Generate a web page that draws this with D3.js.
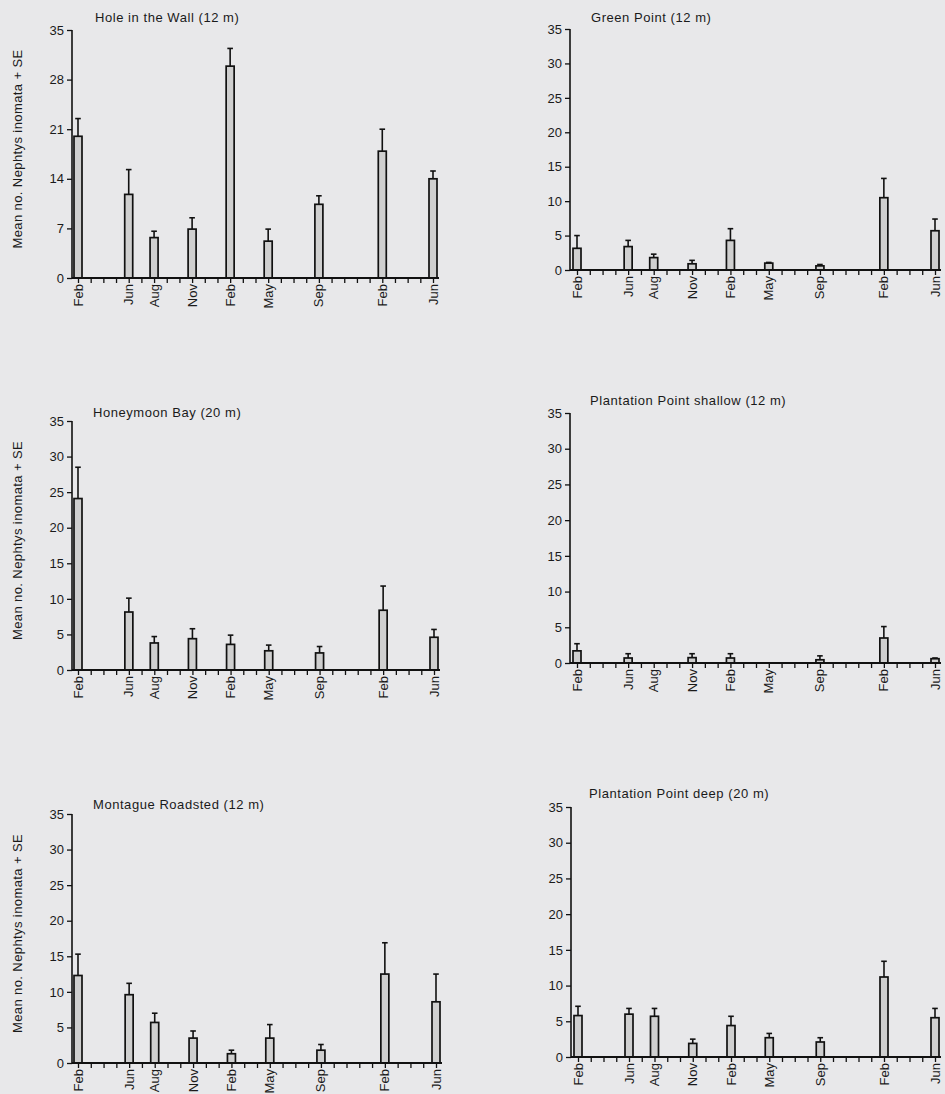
<!DOCTYPE html>
<html>
<head>
<meta charset="utf-8">
<script src="https://cdn.jsdelivr.net/npm/d3@7"></script>
<style>
  html, body { margin: 0; padding: 0; background: #e8e8ea; }
  svg { display: block; }
  text { font-family: "Liberation Sans", Arial, Helvetica, sans-serif; fill: #1a1a1a; }
</style>
</head>
<body>
<svg id="chart" width="945" height="1094"></svg>
<script>
// ---- data ----
const monthIndex = [0, 4, 6, 9, 12, 15, 19, 24, 28];   // months since first Feb
const monthLabels = ["Feb", "Jun", "Aug", "Nov", "Feb", "May", "Sep", "Feb", "Jun"];
const ticksHole = [0, 7, 14, 21, 28, 35];
const ticksFive = [0, 5, 10, 15, 20, 25, 30, 35];
const yLabel = "Mean no. Nephtys inomata + SE";

const holeMean = [20.0, 11.8, 5.7, 6.9, 29.9, 5.2, 10.4, 17.9, 14.0];
const holeSE   = [2.5, 3.5, 0.9, 1.6, 2.5, 1.7, 1.2, 3.1, 1.1];

const greenMean = [3.15, 3.4, 1.8, 0.9, 4.3, 1.0, 0.6, 10.5, 5.7];
const greenSE   = [1.85, 0.9, 0.5, 0.5, 1.7, 0.1, 0.2, 2.8, 1.7];

const honeyMean = [24.1, 8.15, 3.8, 4.4, 3.6, 2.7, 2.4, 8.4, 4.6];
const honeySE   = [4.4, 1.95, 0.9, 1.4, 1.3, 0.8, 0.9, 3.4, 1.1];

const ppShallowMean = [1.7, 0.7, null, 0.75, 0.7, null, 0.45, 3.5, 0.6];
const ppShallowSE   = [1.0, 0.6, null, 0.55, 0.6, null, 0.55, 1.6, 0.1];

const montagueMean = [12.3, 9.6, 5.7, 3.5, 1.3, 3.5, 1.8, 12.5, 8.6];
const montagueSE   = [3.0, 1.6, 1.3, 1.0, 0.5, 1.9, 0.8, 4.4, 3.9];

const ppDeepMean = [5.8, 6.0, 5.7, 1.9, 4.4, 2.7, 2.1, 11.2, 5.5];
const ppDeepSE   = [1.3, 0.8, 1.1, 0.6, 1.3, 0.6, 0.6, 2.2, 1.3];

// ---- layout ----
const panels = [
  { title: "Hole in the Wall (12 m)", mean: holeMean, se: holeSE, ticks: ticksHole,
    x0: 72, xa: 78, xb: 433, yTop: 30, yBot: 278, tx: 95, ty: 22, ylab: true },
  { title: "Green Point (12 m)", mean: greenMean, se: greenSE, ticks: ticksFive,
    x0: 570, xa: 577, xb: 935, yTop: 29, yBot: 270, tx: 591, ty: 22, ylab: false },
  { title: "Honeymoon Bay (20 m)", mean: honeyMean, se: honeySE, ticks: ticksFive,
    x0: 72, xa: 78, xb: 434, yTop: 421, yBot: 670, tx: 93, ty: 417, ylab: true },
  { title: "Plantation Point shallow (12 m)", mean: ppShallowMean, se: ppShallowSE, ticks: ticksFive,
    x0: 570, xa: 577, xb: 935, yTop: 413, yBot: 663, tx: 590, ty: 405, ylab: false },
  { title: "Montague Roadsted (12 m)", mean: montagueMean, se: montagueSE, ticks: ticksFive,
    x0: 72, xa: 78, xb: 436, yTop: 814, yBot: 1063, tx: 93, ty: 809, ylab: true },
  { title: "Plantation Point deep (20 m)", mean: ppDeepMean, se: ppDeepSE, ticks: ticksFive,
    x0: 571, xa: 578, xb: 935, yTop: 807, yBot: 1057, tx: 589, ty: 798, ylab: false }
];

const svg = d3.select("#chart");
const allMonths = d3.range(0, 29);
const fs = "13px";

panels.forEach(p => {
  const g = svg.append("g");
  const x = d3.scaleLinear().domain([0, 28]).range([p.xa, p.xb]);
  const y = d3.scaleLinear().domain([0, 35]).range([p.yBot, p.yTop]);
  const barW = 8;

  const data = monthIndex.map((m, i) => ({ m, label: monthLabels[i], v: p.mean[i], se: p.se[i] }))
    .filter(d => d.v !== null);

  // error bars
  const eb = g.selectAll(".eb").data(data).enter().append("g");
  eb.append("line")
    .attr("x1", d => x(d.m)).attr("x2", d => x(d.m))
    .attr("y1", d => y(d.v)).attr("y2", d => y(d.v + d.se))
    .attr("stroke", "#111").attr("stroke-width", 1.6);
  eb.append("line")
    .attr("x1", d => x(d.m) - 2.8).attr("x2", d => x(d.m) + 2.8)
    .attr("y1", d => y(d.v + d.se)).attr("y2", d => y(d.v + d.se))
    .attr("stroke", "#111").attr("stroke-width", 1.6);

  // bars
  g.selectAll(".bar").data(data).enter().append("rect")
    .attr("x", d => x(d.m) - barW / 2)
    .attr("y", d => y(d.v))
    .attr("width", barW)
    .attr("height", d => y(0) - y(d.v))
    .attr("fill", "#cfcfcf")
    .attr("stroke", "#111")
    .attr("stroke-width", 1.7);

  // y axis
  const yAxis = d3.axisLeft(y).tickValues(p.ticks).tickSize(5).tickPadding(3);
  const ya = g.append("g").attr("transform", `translate(${p.x0},0)`).call(yAxis);
  ya.select(".domain").attr("stroke", "#111").attr("stroke-width", 1.6)
    .attr("d", `M0,${p.yBot}V${p.yTop}`);
  ya.selectAll(".tick line").attr("stroke", "#111").attr("stroke-width", 1.3);
  ya.selectAll(".tick text").style("font-size", fs).attr("fill", "#1a1a1a");

  // x axis: monthly ticks
  const xAxis = d3.axisBottom(x).tickValues(allMonths).tickSize(5).tickFormat("");
  const xa = g.append("g").attr("transform", `translate(0,${p.yBot})`).call(xAxis);
  xa.select(".domain").attr("stroke", "#111").attr("stroke-width", 1.8)
    .attr("d", `M${p.x0},0H${Math.min(x(28) + 6, 945)}`);
  xa.selectAll(".tick line").attr("stroke", "#111").attr("stroke-width", 1.3);

  // month labels
  g.selectAll(".ml").data(monthIndex).enter().append("text")
    .attr("transform", (d) => `translate(${x(d)},${p.yBot + 6}) rotate(-90)`)
    .attr("text-anchor", "end")
    .attr("dy", "0.35em")
    .style("font-size", fs)
    .text((d, i) => monthLabels[i]);

  // title
  g.append("text").attr("x", p.tx).attr("y", p.ty)
    .style("font-size", fs).style("letter-spacing", "0.55px").text(p.title);

  if (p.ylab) {
    g.append("text")
      .attr("transform", `translate(22,${(p.yTop + p.yBot) / 2 - 5}) rotate(-90)`)
      .attr("text-anchor", "middle")
      .style("font-size", fs)
      .style("letter-spacing", "0.4px")
      .text(yLabel);
  }
});
</script>
</body>
</html>
